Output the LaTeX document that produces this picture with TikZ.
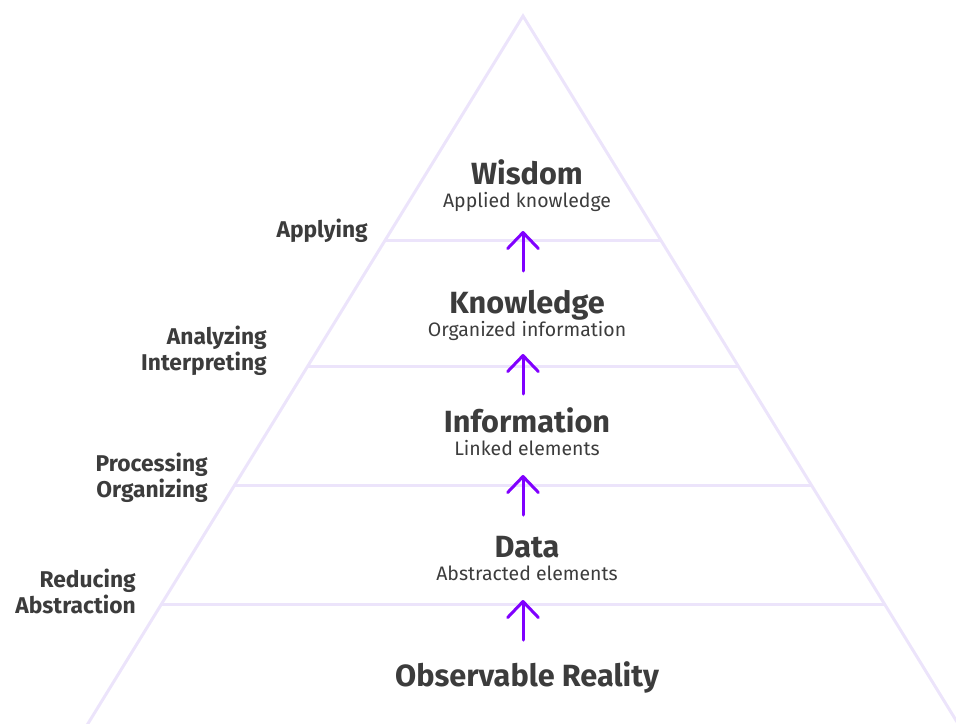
\documentclass[tikz,border=0pt]{standalone}
\usepackage{fontspec}
\setmainfont{Fira Sans}
\usepackage{tikz}
\usetikzlibrary{arrows.meta}
\definecolor{ink}{HTML}{3C3C3C}
\definecolor{lilac}{HTML}{ECE4FB}
\definecolor{liftpurple}{HTML}{8000FF}
\tikzstyle{level}=[font=\bfseries\fontsize{23}{27}\selectfont,text=ink,inner sep=0pt,anchor=base]
\tikzstyle{note}=[font=\fontsize{14.6}{17}\selectfont,text=ink,inner sep=0pt,anchor=base]
\tikzstyle{verb}=[font=\bfseries\fontsize{17.1}{19.5}\selectfont,text=ink,inner sep=0pt,align=right,anchor=base east]

\begin{document}
\begin{tikzpicture}[x=0.75pt, y=-0.75pt]
\tikzstyle{side}=[draw=lilac,line width=2.25pt]
\tikzstyle{lift}=[draw=liftpurple,line width=2.25pt,line cap=round,
  -{Straight Barb[length=12pt,width=23pt,round]}]
  \useasboundingbox (0,0) rectangle (956,724);
  \clip (0,0) rectangle (956,724);

  % pyramid outline, base runs off the bottom
  \coordinate (apex) at (523,16);
  \coordinate (left) at (41,800);
  \coordinate (right) at (1005,800);
  \draw[side] (left) -- (apex) -- (right);
  \foreach \y/\name in {240/w, 366/k, 485/i, 604/d}
    \draw[side] (intersection of apex--left and 0,\y--956,\y) coordinate (\name l)
             -- (intersection of apex--right and 0,\y--956,\y) coordinate (\name r);

  % levels
  \foreach \y/\name/\title/\sub in {184/wisdom/Wisdom/Applied knowledge,
                                    313/knowledge/Knowledge/Organized information,
                                    432/information/Information/Linked elements,
                                    557/data/Data/Abstracted elements}
  {
    \node[level] (\name) at (527,\y) {\title};
    \node[note] (\name-sub) at (527,\y+23) {\sub};
  }
  \node[level] (reality) at (527,686) {Observable Reality};

  % steps on the left (base sits on the last line)
  \node[verb] (applying) at (368,237) {Applying};
  \node[verb] (analyzing) at (267,370) {Analyzing\\Interpreting};
  \node[verb] (processing) at (208,497) {Processing\\Organizing};
  \node[verb] (reducing) at (136,613) {Reducing\\Abstraction};

  % arrows up through each line
  \foreach \tip/\name in {231/w, 354/k, 475/i, 600/d}
  {
    \coordinate (\name tip) at (523,\tip);
    \coordinate (\name tail) at (523,\tip+40);
    \draw[lift] (\name tail) -- (\name tip);
  }
\end{tikzpicture}
\end{document}
